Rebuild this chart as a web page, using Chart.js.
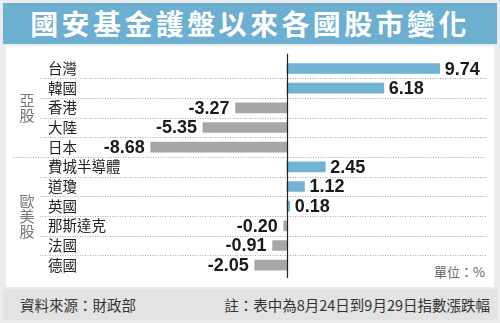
<!DOCTYPE html>
<html>
<head>
<meta charset="utf-8">
<script src="https://cdn.jsdelivr.net/npm/chart.js@4.4.1/dist/chart.umd.min.js"></script>
<style>
  html, body { margin: 0; padding: 0; }
  body {
    width: 500px; height: 323px; position: relative; overflow: hidden;
    background: #ececec;
    font-family: "Noto Sans CJK TC", "Noto Sans", sans-serif;
  }
  .title {
    position: absolute; left: 3px; top: 3px; width: 494px; height: 41px;
    background: #6cafd1; color: #fff;
    font-size: 28px; font-weight: bold; letter-spacing: 3.4px;
    line-height: 41px; text-align: center;
  }
  .panel {
    position: absolute; left: 6px; top: 46px; width: 488px; height: 241px;
    background: #fff;
  }
  .footer {
    position: absolute; left: 3px; top: 289px; width: 494px; height: 31px;
    background: #e3e3e3; color: #333; font-size: 14.5px; line-height: 31px;
  }
  .footer .src { position: absolute; left: 17px; top: 0; }
  .footer .note { position: absolute; right: 7px; top: 0; }
  .unit {
    position: absolute; right: 15px; top: 262px;
    font-size: 13px; color: #666;
  }
  #wrap { position: absolute; left: 0; top: 50px; width: 500px; height: 235px; }
</style>
</head>
<body>
<div class="title">國安基金護盤以來各國股市變化</div>
<div class="panel"></div>
<div class="unit">單位：%</div>
<div class="footer">
  <span class="src">資料來源：財政部</span>
  <span class="note">註：表中為8月24日到9月29日指數漲跌幅</span>
</div>
<div id="wrap"><canvas id="chart"></canvas></div>

<script>
// ── Data ─────────────────────────────────────────────────────
const markets = ['台灣', '韓國', '香港', '大陸', '日本', '費城半導體', '道瓊', '英國', '那斯達克', '法國', '德國'];
const changes = [9.74, 6.18, -3.27, -5.35, -8.68, 2.45, 1.12, 0.18, -0.20, -0.91, -2.05];
const groupNames = ['亞股', '歐美股'];
const groupSizes = [5, 6];

const UP = '#70b3d4';
const DOWN = '#a7a7a9';

// ── Decorations: zero line, dotted row rules, group names, values ──
const decor = {
  id: 'decor',
  beforeDatasetsDraw(chart) {
    const { ctx, scales: { y } } = chart;
    ctx.save();
    ctx.strokeStyle = '#a9a9a9';
    ctx.lineWidth = 1;
    ctx.setLineDash([1, 1.5]);
    const groupEnds = [];
    let acc = 0;
    groupSizes.forEach((n) => { acc += n; groupEnds.push(acc - 1); });
    for (let i = 0; i < markets.length - 1; i++) {
      const yy = Math.round((y.getPixelForValue(i) + y.getPixelForValue(i + 1)) / 2) + 0.5;
      const x0 = groupEnds.includes(i) ? 13 : 40;
      ctx.beginPath();
      ctx.moveTo(x0, yy);
      ctx.lineTo(486, yy);
      ctx.stroke();
    }
    ctx.restore();

    // group names, written top to bottom
    ctx.save();
    ctx.fillStyle = '#777';
    ctx.font = '15px "Noto Sans CJK TC"';
    ctx.textAlign = 'center';
    ctx.textBaseline = 'middle';
    let start = 0;
    groupNames.forEach((name, g) => {
      const end = start + groupSizes[g] - 1;
      const mid = (y.getPixelForValue(start) + y.getPixelForValue(end)) / 2;
      const chars = [...name];
      const step = 15;
      chars.forEach((c, k) => {
        ctx.fillText(c, 27, mid + (k - (chars.length - 1) / 2) * step);
      });
      start = end + 1;
    });
    ctx.restore();
  },
  afterDatasetsDraw(chart) {
    const { ctx, chartArea, scales: { x } } = chart;
    const zx = Math.round(x.getPixelForValue(0)) + 0.5;
    ctx.save();
    ctx.strokeStyle = '#222';
    ctx.lineWidth = 1.2;
    ctx.beginPath();
    ctx.moveTo(zx, chartArea.top - 5);
    ctx.lineTo(zx, chartArea.bottom + 3);
    ctx.stroke();

    ctx.fillStyle = '#1a1a1a';
    ctx.font = 'bold 18px "Liberation Sans", Arial, sans-serif';
    ctx.textBaseline = 'middle';
    chart.getDatasetMeta(0).data.forEach((bar, i) => {
      const v = changes[i];
      const txt = v.toFixed(2);
      if (v >= 0) {
        ctx.textAlign = 'left';
        ctx.fillText(txt, bar.x + 5, bar.y + 1);
      } else {
        ctx.textAlign = 'right';
        ctx.fillText(txt, bar.x - 6, bar.y + 1);
      }
    });
    ctx.restore();
  }
};

// ── Chart ────────────────────────────────────────────────────
new Chart(document.getElementById('chart'), {
  type: 'bar',
  data: {
    labels: markets,
    datasets: [{
      data: changes,
      backgroundColor: changes.map((v) => (v >= 0 ? UP : DOWN)),
      barThickness: 10,
      borderWidth: 0,
    }],
  },
  options: {
    indexAxis: 'y',
    responsive: true,
    maintainAspectRatio: false,
    animation: false,
    layout: { padding: { left: 48, right: 17, top: 7, bottom: 10 } },
    plugins: { legend: { display: false }, tooltip: { enabled: false } },
    scales: {
      x: { display: false, min: -10, max: 12.5 },
      y: {
        grid: { display: false },
        border: { display: false },
        ticks: {
          autoSkip: false,
          crossAlign: 'far',
          padding: 0,
          color: '#222',
          font: { family: '"Noto Sans CJK TC"', size: 14.5 },
        },
        afterFit(scale) { scale.width = 82; },
      },
    },
  },
  plugins: [decor],
});
</script>
</body>
</html>
